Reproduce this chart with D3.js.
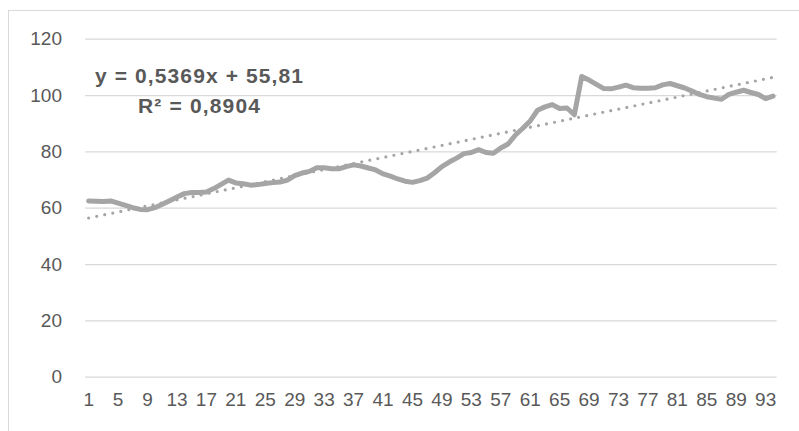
<!DOCTYPE html>
<html>
<head>
<meta charset="utf-8">
<script src="https://cdn.jsdelivr.net/npm/d3@7"></script>
<style>
  body { margin: 0; background: #fff; }
  svg { display: block; }
</style>
</head>
<body>
<svg id="vis" width="799" height="431"></svg>
<script>
// series values, one per period (1..94)
var values = [
  62.4, 62.3, 62.2, 62.4, 61.6, 60.8, 60.0, 59.4, 59.3, 60.0,
  61.2, 62.5, 63.8, 65.0, 65.4, 65.4, 65.6, 66.8, 68.3, 69.8,
  68.8, 68.5, 68.0, 68.2, 68.6, 68.9, 69.1, 69.8, 71.4, 72.3,
  72.9, 74.2, 74.2, 73.8, 73.8, 74.6, 75.2, 74.8, 74.1, 73.4,
  72.0, 71.2, 70.2, 69.4, 69.0, 69.6, 70.5, 72.4, 74.6, 76.2,
  77.6, 79.2, 79.6, 80.6, 79.6, 79.3, 81.2, 82.6, 85.8, 88.2,
  90.8, 94.6, 95.8, 96.6, 95.2, 95.4, 93.0, 106.6, 105.3, 103.8,
  102.3, 102.2, 102.8, 103.5, 102.6, 102.4, 102.4, 102.6, 103.6, 104.1,
  103.3, 102.5, 101.4, 100.2, 99.4, 98.9, 98.5, 100.2, 101.0, 101.7,
  100.9, 100.2, 98.7, 99.6
];
var categories = values.map(function(d, i) { return i + 1; });
var yTicks = [0, 20, 40, 60, 80, 100, 120];

// linear trendline, as printed on the chart
var slope = 0.5369;
var intercept = 55.81;
var eqLines = ["y = 0,5369x + 55,81", "R² = 0,8904"];

var margin = { left: 85, right: 22.3, top: 38.7, bottom: 54.3 };
var width = 799, height = 431;

var svg = d3.select("#vis");

// chart area border
svg.append("rect")
    .attr("x", 8.5)
    .attr("y", 10.5)
    .attr("width", 800)
    .attr("height", 430)
    .attr("fill", "none")
    .attr("stroke", "#d9d9d9")
    .attr("stroke-width", 1);

var xScale = d3.scaleBand()
    .domain(categories)
    .range([margin.left, width - margin.right]);

var yScale = d3.scaleLinear()
    .domain([0, 120])
    .range([height - margin.bottom, margin.top]);

var cx = function(c) { return xScale(c) + xScale.bandwidth() / 2; };

// gridlines + y labels
var yAxis = d3.axisLeft(yScale)
    .tickValues(yTicks)
    .tickSize(-(width - margin.right - margin.left))
    .tickPadding(23);

var gy = svg.append("g")
    .attr("transform", "translate(" + margin.left + ",0)")
    .call(yAxis);
gy.select(".domain").remove();
gy.selectAll(".tick line")
    .attr("stroke", "#d9d9d9")
    .attr("stroke-width", 1.2);
gy.selectAll(".tick text")
    .attr("fill", "#595959")
    .style("font-family", "Liberation Sans, Arial, sans-serif")
    .style("font-size", "19px");

// x labels, every 4th category
var xAxis = d3.axisBottom(xScale)
    .tickValues(categories.filter(function(d) { return (d - 1) % 4 === 0; }))
    .tickSize(0)
    .tickPadding(16);

var gx = svg.append("g")
    .attr("transform", "translate(0," + (height - margin.bottom) + ")")
    .call(xAxis);
gx.select(".domain").remove();
gx.selectAll(".tick text")
    .attr("fill", "#595959")
    .style("font-family", "Liberation Sans, Arial, sans-serif")
    .style("font-size", "19px");

// trendline
var first = categories[0], last = categories[categories.length - 1];
svg.append("line")
    .attr("x1", cx(first))
    .attr("y1", yScale(slope * first + intercept))
    .attr("x2", cx(last))
    .attr("y2", yScale(slope * last + intercept))
    .attr("stroke", "#a5a5a5")
    .attr("stroke-width", 3.2)
    .attr("stroke-linecap", "round")
    .attr("stroke-dasharray", "0 8.2");

// series line
var line = d3.line()
    .x(function(d, i) { return cx(categories[i]); })
    .y(function(d) { return yScale(d); });

svg.append("path")
    .datum(values)
    .attr("d", line)
    .attr("fill", "none")
    .attr("stroke", "#a5a5a5")
    .attr("stroke-width", 5)
    .attr("stroke-linejoin", "round")
    .attr("stroke-linecap", "round");

// equation label
var eqWidths = [208, 122];
svg.append("g")
    .selectAll("text")
    .data(eqLines)
    .enter()
    .append("text")
    .attr("x", 199)
    .attr("y", function(d, i) { return 83 + i * 30; })
    .attr("text-anchor", "middle")
    .attr("textLength", function(d, i) { return eqWidths[i]; })
    .attr("lengthAdjust", "spacing")
    .attr("fill", "#595959")
    .style("font-family", "Liberation Sans, Arial, sans-serif")
    .style("font-weight", "bold")
    .style("font-size", "21px")
    .text(function(d) { return d; });
</script>
</body>
</html>
